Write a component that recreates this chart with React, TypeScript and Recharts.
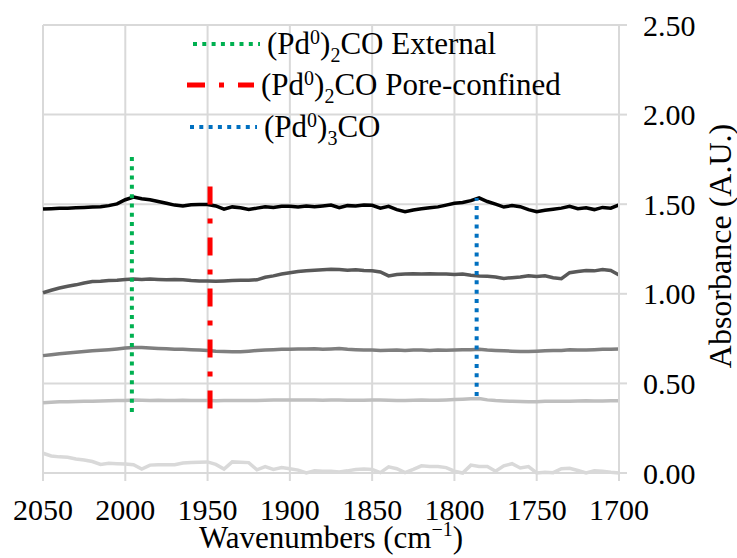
import React from 'react';
import { LineChart, Line, XAxis, YAxis, CartesianGrid, Legend } from 'recharts';

// wavenumbers, cm-1 (step 5)
const wavenumbers = [
  2050, 2045, 2040, 2035, 2030, 2025, 2020, 2015, 2010, 2005, 2000, 1995, 1990, 1985, 1980, 1975, 1970, 1965,
  1960, 1955, 1950, 1945, 1940, 1935, 1930, 1925, 1920, 1915, 1910, 1905, 1900, 1895, 1890, 1885, 1880, 1875,
  1870, 1865, 1860, 1855, 1850, 1845, 1840, 1835, 1830, 1825, 1820, 1815, 1810, 1805, 1800, 1795, 1790, 1785,
  1780, 1775, 1770, 1765, 1760, 1755, 1750, 1745, 1740, 1735, 1730, 1725, 1720, 1715, 1710, 1705, 1700,
];

const spectrum1 = [
  1.473, 1.475, 1.478, 1.478, 1.48, 1.482, 1.484, 1.486, 1.492, 1.502, 1.525, 1.54, 1.53, 1.525, 1.515, 1.505, 1.495, 1.49,
  1.497, 1.498, 1.498, 1.49, 1.472, 1.485, 1.48, 1.47, 1.478, 1.486, 1.482, 1.488, 1.488, 1.485, 1.49, 1.486, 1.49, 1.495,
  1.48, 1.492, 1.49, 1.495, 1.494, 1.478, 1.488, 1.47, 1.458, 1.468, 1.474, 1.48, 1.485, 1.495, 1.505, 1.51, 1.52, 1.535,
  1.515, 1.5, 1.484, 1.492, 1.486, 1.47, 1.458, 1.466, 1.472, 1.478, 1.488, 1.475, 1.48, 1.47, 1.482, 1.478, 1.496,
];

const spectrum2 = [
  1.006, 1.02, 1.032, 1.042, 1.05, 1.06, 1.068, 1.07, 1.074, 1.076, 1.08, 1.082, 1.08, 1.082, 1.08, 1.078, 1.08, 1.078,
  1.074, 1.072, 1.071, 1.07, 1.072, 1.074, 1.076, 1.076, 1.078, 1.092, 1.1, 1.11, 1.118, 1.124, 1.128, 1.132, 1.134, 1.137,
  1.135, 1.132, 1.134, 1.13, 1.128, 1.122, 1.1, 1.108, 1.11, 1.112, 1.11, 1.112, 1.11, 1.11, 1.108, 1.11, 1.104, 1.1,
  1.098, 1.094, 1.086, 1.09, 1.094, 1.1, 1.096, 1.1, 1.09, 1.084, 1.118, 1.125, 1.13, 1.128, 1.135, 1.13, 1.105,
];

const spectrum3 = [
  0.655, 0.66, 0.665, 0.67, 0.674, 0.678, 0.682, 0.685, 0.688, 0.692, 0.697, 0.7, 0.7, 0.697, 0.695, 0.693, 0.69, 0.69,
  0.688, 0.686, 0.684, 0.68, 0.678, 0.677, 0.677, 0.68, 0.684, 0.686, 0.688, 0.69, 0.69, 0.692, 0.692, 0.694, 0.69, 0.692,
  0.695, 0.69, 0.688, 0.687, 0.686, 0.684, 0.685, 0.686, 0.684, 0.686, 0.686, 0.684, 0.686, 0.685, 0.686, 0.688, 0.688, 0.69,
  0.686, 0.684, 0.682, 0.68, 0.678, 0.678, 0.68, 0.682, 0.684, 0.684, 0.688, 0.686, 0.686, 0.688, 0.69, 0.69, 0.692,
];

const spectrum4 = [
  0.392, 0.395, 0.397, 0.398, 0.399, 0.4, 0.401, 0.402, 0.403, 0.404, 0.405, 0.407, 0.406, 0.405, 0.406, 0.404, 0.404, 0.406,
  0.405, 0.404, 0.404, 0.403, 0.404, 0.404, 0.405, 0.404, 0.405, 0.406, 0.407, 0.407, 0.407, 0.408, 0.407, 0.407, 0.406, 0.407,
  0.407, 0.406, 0.406, 0.406, 0.407, 0.407, 0.406, 0.405, 0.405, 0.406, 0.407, 0.406, 0.406, 0.408, 0.41, 0.412, 0.414, 0.416,
  0.408, 0.404, 0.402, 0.4, 0.399, 0.398, 0.398, 0.4, 0.4, 0.401, 0.4, 0.402, 0.403, 0.402, 0.402, 0.403, 0.403,
];

const spectrum5 = [
  0.11, 0.095, 0.09, 0.088, 0.078, 0.072, 0.064, 0.048, 0.054, 0.052, 0.05, 0.046, 0.022, 0.044, 0.046, 0.046, 0.046, 0.056,
  0.058, 0.06, 0.062, 0.048, 0.022, 0.062, 0.06, 0.058, 0.018, 0.036, 0.02, 0.03, 0.024, 0.016, 0.0, 0.012, 0.01, 0.01,
  0.006, 0.012, 0.02, 0.022, 0.02, 0.002, 0.034, 0.024, 0.002, 0.02, 0.04, 0.036, 0.036, 0.03, 0.01, 0.0, 0.044, 0.036,
  0.036, 0.01, 0.04, 0.052, 0.028, 0.036, 0.0, 0.004, 0.002, 0.024, 0.026, 0.014, 0.0, 0.012, 0.01, 0.004, 0.0,
];

// peak markers: position (cm-1) and vertical extent (A.U.)
const externalMarker = [{ wn: 1996, a: 0.34 }, { wn: 1996, a: 1.77 }];
const poreMarker = [{ wn: 1948.5, a: 0.36 }, { wn: 1948.5, a: 1.6 }];
const pd3Marker = [{ wn: 1786.5, a: 0.43 }, { wn: 1786.5, a: 1.535 }];

const xTicks = [2050, 2000, 1950, 1900, 1850, 1800, 1750, 1700];
const yTicks = [0, 0.5, 1, 1.5, 2, 2.5];

const data = wavenumbers.map((wn, i) => ({
  wn,
  s1: spectrum1[i],
  s2: spectrum2[i],
  s3: spectrum3[i],
  s4: spectrum4[i],
  s5: spectrum5[i],
}));

const FONT = "'Liberation Serif', 'Times New Roman', serif";

// legend text: (Pd0)nCO ...
const legendLabels: Record<string, { n: string; rest: string; shift: number }> = {
  a_external: { n: '2', rest: 'CO External', shift: 6 },
  b_pore: { n: '2', rest: 'CO Pore-confined', shift: 0 },
  c_pd3: { n: '3', rest: 'CO', shift: 3 },
};

function LegendBox({ payload }: any) {
  const items = (payload || []).filter((p: any) => legendLabels[p.value]);
  return (
    <div style={{ fontFamily: FONT, fontSize: 31, color: '#000' }}>
      {items.map((p: any) => {
        const lab = legendLabels[p.value];
        return (
          <div key={p.value} style={{ display: 'flex', alignItems: 'center', height: 41.5, marginLeft: lab.shift, whiteSpace: 'nowrap' }}>
            <svg width={69} height={10} style={{ marginRight: 6 }}>
              <line x1={1} y1={5} x2={68} y2={5} stroke={p.color} strokeWidth={p.payload.strokeWidth}
                strokeDasharray={p.payload.strokeDasharray} />
            </svg>
            <span>
              (Pd<sup style={{ fontSize: 20, verticalAlign: 10, lineHeight: 0 }}>0</sup>)
              <sub style={{ fontSize: 20, verticalAlign: -8, lineHeight: 0 }}>{lab.n}</sub>
              {lab.rest}
            </span>
          </div>
        );
      })}
    </div>
  );
}

const XTitle = ({ viewBox }: any) => {
  const cx = viewBox.x + viewBox.width / 2;
  return (
    <text x={cx} y={548} textAnchor="middle" fontFamily={FONT} fontSize={31} fill="#000">
      Wavenumbers (cm<tspan dy={-12} fontSize={20}>−1</tspan><tspan dy={12}>)</tspan>
    </text>
  );
};

const YTitle = ({ viewBox }: any) => {
  const cy = viewBox.y + viewBox.height / 2 - 3;
  return (
    <text x={731} y={cy} transform={`rotate(-90, 731, ${cy})`} textAnchor="middle"
      fontFamily={FONT} fontSize={32} fill="#000">
      Absorbance (A.U.)
    </text>
  );
};

export default function App() {
  return (
    <div style={{ position: 'absolute', left: 0, top: 0, background: '#fff' }}>
      <LineChart width={737} height={558} data={data} margin={{ top: 25, right: 0, bottom: 0, left: 43 }}>
        <CartesianGrid stroke="#d9d9d9" strokeWidth={2} />
        <XAxis
          dataKey="wn"
          type="number"
          domain={[1700, 2050]}
          reversed
          ticks={xTicks}
          height={85}
          stroke="#d9d9d9"
          strokeWidth={2}
          tickSize={8}
          tickMargin={18}
          interval={0}
          tick={{ fill: '#000', fontFamily: FONT, fontSize: 30 }}
          label={<XTitle />}
        />
        <YAxis
          orientation="right"
          type="number"
          domain={[0, 2.5]}
          ticks={yTicks}
          width={118}
          stroke="#d9d9d9"
          strokeWidth={2}
          tickSize={8}
          tickMargin={16}
          interval={0}
          tickFormatter={(v: number) => v.toFixed(2)}
          tick={{ fill: '#000', fontFamily: FONT, fontSize: 30, textAnchor: 'start' }}
          label={<YTitle />}
        />
        <Legend
          verticalAlign="middle"
          align="center"
          layout="horizontal"
          wrapperStyle={{ left: 186, top: 23, width: 460 }}
          content={<LegendBox />}
        />
        <Line dataKey="s5" stroke="#d9d9d9" strokeWidth={3.5} dot={false} legendType="none" isAnimationActive={false} />
        <Line dataKey="s4" stroke="#bfbfbf" strokeWidth={3.5} dot={false} legendType="none" isAnimationActive={false} />
        <Line dataKey="s3" stroke="#7f7f7f" strokeWidth={3.5} dot={false} legendType="none" isAnimationActive={false} />
        <Line dataKey="s2" stroke="#595959" strokeWidth={3.5} dot={false} legendType="none" isAnimationActive={false} />
        <Line dataKey="s1" stroke="#000000" strokeWidth={3.5} dot={false} legendType="none" isAnimationActive={false} />
        <Line data={externalMarker} dataKey="a" name="a_external" stroke="#00b050" strokeWidth={4}
          strokeDasharray="4 5.3" dot={false} isAnimationActive={false} />
        <Line data={poreMarker} dataKey="a" name="b_pore" stroke="#ff0000" strokeWidth={5}
          strokeDasharray="18 14 5 14" dot={false} isAnimationActive={false} />
        <Line data={pd3Marker} dataKey="a" name="c_pd3" stroke="#0070c0" strokeWidth={4}
          strokeDasharray="4 5.3" dot={false} isAnimationActive={false} />
      </LineChart>
    </div>
  );
}
